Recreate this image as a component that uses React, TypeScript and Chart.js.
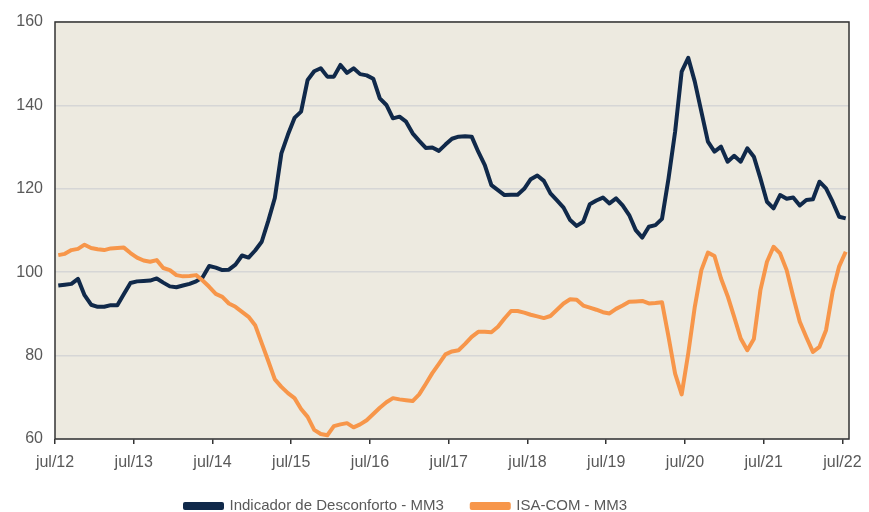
import React, { useEffect, useRef } from 'react';
import { Chart, registerables } from 'chart.js';

Chart.register(...registerables);

// Monthly categories jul/12 .. jul/22 (121 months)
const monthNames = ['jul', 'ago', 'set', 'out', 'nov', 'dez', 'jan', 'fev', 'mar', 'abr', 'mai', 'jun'];
const categories = Array.from({ length: 121 }, (_, i) => `${monthNames[i % 12]}/${12 + Math.floor((i + 6) / 12)}`);

const yearTicks = ['jul/12', 'jul/13', 'jul/14', 'jul/15', 'jul/16', 'jul/17', 'jul/18', 'jul/19', 'jul/20', 'jul/21', 'jul/22'];

const desconforto = [
  96.8, 97.0, 97.2, 98.4, 94.5, 92.2, 91.7, 91.7, 92.1, 92.1, 94.8, 97.4, 97.8,
  97.9, 98.0, 98.5, 97.5, 96.6, 96.4, 96.8, 97.2, 97.8, 98.8, 101.5, 101.1,
  100.5, 100.6, 101.8, 104.0, 103.5, 105.2, 107.3, 112.3, 117.8, 128.5, 133.0, 137.0,
  138.5, 146.1, 148.2, 148.9, 146.9, 146.9, 149.7, 147.8, 148.9, 147.5, 147.2, 146.4,
  141.7, 140.1, 136.9, 137.3, 136.1, 133.3, 131.5, 129.8, 129.9, 129.1, 130.6, 132.0,
  132.5, 132.6, 132.5, 128.9, 125.7, 120.9, 119.7, 118.5, 118.6, 118.6, 120.0, 122.3,
  123.2, 121.9, 118.9, 117.2, 115.5, 112.5, 111.1, 112.1, 116.3, 117.2, 117.9, 116.5,
  117.7, 116.0, 113.7, 110.1, 108.3, 110.9, 111.3, 112.8, 122.5, 133.7, 148.1, 151.4,
  145.7, 138.5, 131.3, 128.9, 130.1, 126.5, 127.9, 126.5, 129.7, 127.7, 122.5, 116.9,
  115.3, 118.5, 117.6, 117.9, 116.0, 117.3, 117.5, 121.7, 120.1, 116.9, 113.3, 112.9,
];

const isaCom = [
  104.1, 104.4, 105.3, 105.6, 106.6, 105.8, 105.5, 105.3, 105.7, 105.8, 105.9, 104.6, 103.5,
  102.8, 102.5, 102.9, 101.0, 100.5, 99.3, 99.0, 99.1, 99.3, 98.0, 96.5, 94.8,
  94.1, 92.5, 91.7, 90.5, 89.3, 87.3, 83.0, 78.7, 74.3, 72.5, 71.0, 69.8,
  67.2, 65.3, 62.2, 61.2, 60.9, 63.1, 63.5, 63.8, 62.8, 63.5, 64.5, 66.0,
  67.5, 68.8, 69.8, 69.5, 69.3, 69.1, 70.7, 73.2, 75.8, 78.0, 80.3, 81.0,
  81.3, 82.8, 84.5, 85.7, 85.7, 85.6, 86.9, 88.9, 90.7, 90.7, 90.3, 89.8,
  89.4, 89.0, 89.5, 91.0, 92.5, 93.5, 93.4, 92.0, 91.5, 91.0, 90.4, 90.1,
  91.2, 92.0, 92.9, 93.0, 93.1, 92.5, 92.6, 92.8, 84.5, 75.7, 70.7, 80.5,
  91.7, 100.5, 104.7, 103.9, 98.5, 94.3, 89.3, 84.1, 81.3, 84.0, 95.7, 102.5,
  106.1, 104.5, 100.5, 94.1, 88.1, 84.4, 80.9, 82.1, 86.1, 95.3, 101.4, 104.9,
];

const seriesNames = ['Indicador de Desconforto - MM3', 'ISA-COM - MM3'];
const seriesColors = ['#10294a', '#f7964a'];

const FONT = "'Liberation Sans', Arial, sans-serif";
const TEXT = '#595959';
const LEGEND_PAD = 28;

export default function App() {
  const ref = useRef<HTMLCanvasElement>(null);

  useEffect(() => {
    if (!ref.current) return;
    const plotPlugin = {
      id: 'plotDecor',
      beforeDraw(chart: any) {
        const { ctx, chartArea: a } = chart;
        ctx.save();
        ctx.fillStyle = '#edeae0';
        ctx.fillRect(a.left, a.top, a.right - a.left, a.bottom - a.top);
        ctx.restore();
      },
      afterDatasetsDraw(chart: any) {
        const { ctx, chartArea: a } = chart;
        ctx.save();
        ctx.strokeStyle = '#333333';
        ctx.lineWidth = 1.5;
        ctx.strokeRect(a.left, a.top, a.right - a.left, a.bottom - a.top);
        ctx.restore();
      },
      afterLayout(chart: any) {
        const lg = chart.legend;
        if (lg) {
          const h = lg.height;
          const w = lg.width;
          lg.top = 506 - LEGEND_PAD - 7.5;
          lg.bottom = lg.top + h;
          lg.left = 185 - LEGEND_PAD;
          lg.right = lg.left + w;
        }
        const xs = chart.scales.x;
        if (xs) {
          xs.bottom = xs.top + 45;
          xs.height = 45;
        }
      },
    };

    const chart = new Chart(ref.current, {
      type: 'line',
      data: {
        labels: categories,
        datasets: [
          {
            label: seriesNames[0],
            data: desconforto,
            borderColor: seriesColors[0],
            backgroundColor: seriesColors[0],
            borderWidth: 4,
            pointRadius: 0,
            tension: 0,
            fill: false,
            borderJoinStyle: 'round',
            order: 1,
          },
          {
            label: seriesNames[1],
            data: isaCom,
            borderColor: seriesColors[1],
            backgroundColor: seriesColors[1],
            borderWidth: 4,
            pointRadius: 0,
            tension: 0,
            fill: false,
            borderJoinStyle: 'round',
            order: 0,
          },
        ],
      },
      options: {
        animation: false,
        responsive: true,
        maintainAspectRatio: false,
        layout: { padding: { top: 22, right: 20, left: 0, bottom: 0 } },
        plugins: {
          tooltip: { enabled: false },
          legend: {
            position: 'bottom',
            align: 'start',
            labels: {
              boxWidth: 37,
              boxHeight: 4,
              padding: LEGEND_PAD,
              color: TEXT,
              font: { family: FONT, size: 15 },
              sort: (a: any, b: any) => a.datasetIndex - b.datasetIndex,
            },
          },
        },
        scales: {
          x: {
            type: 'category',
            offset: true,
            afterFit: (s: any) => {
              s.height = 48 - LEGEND_PAD;
              s.paddingLeft = 0;
              s.paddingRight = 0;
            },
            border: { display: false },
            grid: {
              offset: true,
              drawOnChartArea: false,
              drawTicks: true,
              tickLength: 5,
              lineWidth: 1.5,
              color: (ctx: any) => (ctx.index % 12 === 0 ? '#333333' : 'rgba(0,0,0,0)'),
            },
            ticks: {
              autoSkip: false,
              maxRotation: 0,
              minRotation: 0,
              padding: 9,
              labelOffset: -794 / 121 / 2,
              color: TEXT,
              font: { family: FONT, size: 16 },
              callback: (_v: any, i: number) => (i % 12 === 0 ? yearTicks[i / 12] : ''),
            },
          },
          y: {
            min: 60,
            max: 160,
            afterFit: (s: any) => { s.width = 55; },
            border: { display: false },
            grid: { color: '#d6d6d6', lineWidth: 1.5, drawTicks: false },
            ticks: {
              stepSize: 20,
              padding: 12,
              color: TEXT,
              font: { family: FONT, size: 16 },
            },
          },
        },
      },
      plugins: [plotPlugin],
    } as any);

    return () => chart.destroy();
  }, []);

  return (
    <div style={{ position: 'absolute', left: 0, top: 0, width: 869, height: 512, background: '#fff' }}>
      <canvas ref={ref} />
    </div>
  );
}
